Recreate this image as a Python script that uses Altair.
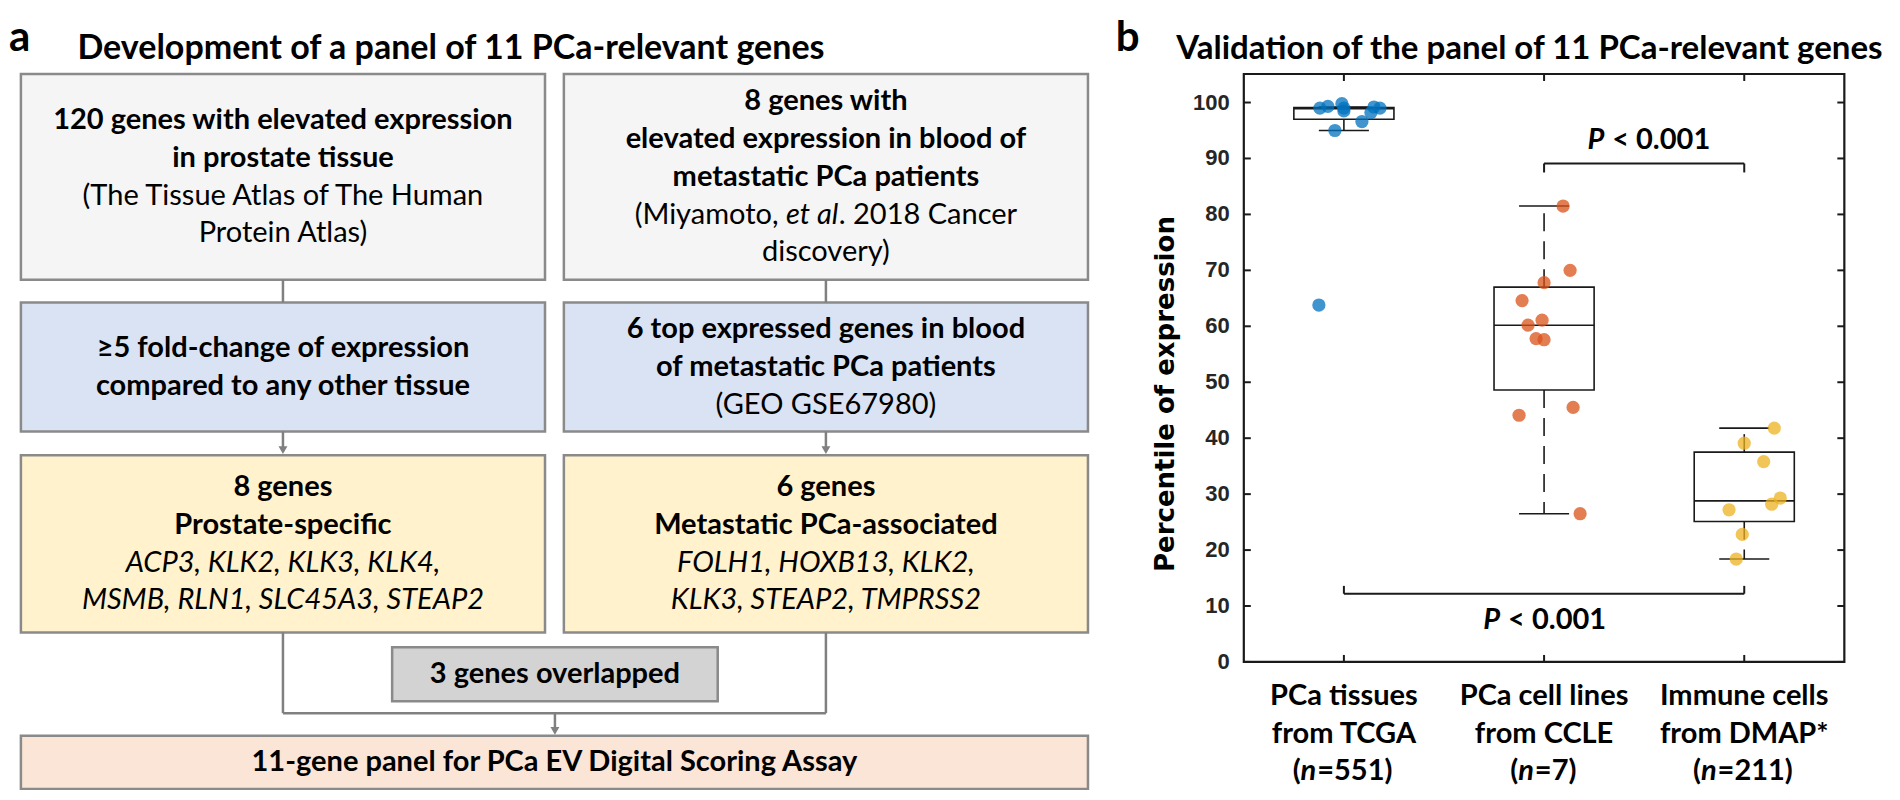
import altair as alt
import pandas as pd

# ------------------------------------------------------------------
# Panel b data
# ------------------------------------------------------------------
CATS = [1, 2, 3]
CAT_L1 = ["PCa tissues", "PCa cell lines", "Immune cells"]
CAT_L2 = ["from TCGA", "from CCLE", "from DMAP*"]
CAT_N = ["551", "7", "211"]
CAT_COLOR = ["#0072BD", "#D95319", "#EDB120"]

BOX_Q1 = [97.0, 48.6, 25.1]
BOX_MED = [98.9, 60.2, 28.8]
BOX_Q3 = [99.1, 67.0, 37.5]
BOX_LO = [95.0, 26.5, 18.4]
BOX_HI = [99.2, 81.5, 41.8]

PT_GROUP = [1] * 11 + [2] * 11 + [3] * 8
PT_X = [0.88, 0.92, 0.99, 1.00, 1.00, 1.15, 1.18, 1.135, 1.09, 0.955, 0.875,
        2.095, 2.13, 2.00, 1.89, 1.99, 1.92, 1.96, 2.00, 1.875, 2.145, 2.18,
        3.15, 3.00, 3.097, 3.18, 3.137, 2.924, 2.99, 2.96]
PT_Y = [99.0, 99.3, 99.8, 98.5, 99.0, 99.2, 99.0, 98.2, 96.6, 95.0, 63.8,
        81.5, 70.0, 67.8, 64.6, 61.1, 60.2, 57.8, 57.6, 44.1, 45.5, 26.5,
        41.8, 39.1, 35.8, 29.3, 28.2, 27.2, 22.8, 18.4]

Y_TICKS = list(range(0, 101, 10))
Y_MAX = 105.1

BR_X1 = [2, 1]
BR_X2 = [3, 3]
BR_Y = [89.1, 12.2]
BR_LEG = [87.5, 13.6]
P_X = [2.53, 2.01]
P_Y = [93.3, 7.5]

# ------------------------------------------------------------------
# Panel a content (flowchart)
# ------------------------------------------------------------------
BOX_FILL = ["#f5f5f5", "#f5f5f5", "#dae3f3", "#dae3f3", "#fff2cc", "#fff2cc", "#d3d3d3", "#fbe5d6"]
BOX_TEXT = [
    [[("120 genes with elevated expression", "b")], [("in prostate tissue", "b")],
     [("(The Tissue Atlas of The Human", "r")], [("Protein Atlas)", "r")]],
    [[("8 genes with", "b")], [("elevated expression in blood of", "b")], [("metastatic PCa patients", "b")],
     [("(Miyamoto, ", "r"), ("et al", "i"), (". 2018 Cancer", "r")], [("discovery)", "r")]],
    [[("\u22655 fold-change of expression", "b")], [("compared to any other tissue", "b")]],
    [[("6 top expressed genes in blood", "b")], [("of metastatic PCa patients", "b")], [("(GEO GSE67980)", "r")]],
    [[("8 genes", "b")], [("Prostate-specific", "b")], [("ACP3, KLK2, KLK3, KLK4,", "i")],
     [("MSMB, RLN1, SLC45A3, STEAP2", "i")]],
    [[("6 genes", "b")], [("Metastatic PCa-associated", "b")], [("FOLH1, HOXB13, KLK2,", "i")],
     [("KLK3, STEAP2, TMPRSS2", "i")]],
    [[("3 genes overlapped", "b")]],
    [[("11-gene panel for PCa EV Digital Scoring Assay", "b")]],
]
TITLE_A = "Development of a panel of 11 PCa-relevant genes"
TITLE_B = "Validation of the panel of 11 PCa-relevant genes"
Y_TITLE = "Percentile of expression"

# ------------------------------------------------------------------
# Layout (reference pixel space of the 1900x800 figure)
# ------------------------------------------------------------------
BOX_X0 = [13, 560, 13, 560, 13, 560, 387, 13]
BOX_X1 = [541, 1088, 541, 1088, 541, 1088, 715, 1088]
BOX_Y0 = [70, 70, 302, 302, 457, 457, 652, 742]
BOX_Y1 = [279, 279, 433, 433, 637, 637, 707, 796]
LINE_H = 38.3
CONN = [(277, 279, 277, 302), (824, 279, 824, 302), (277, 433, 277, 450), (824, 433, 824, 450),
        (277, 637, 277, 719), (824, 637, 824, 719), (277, 719, 824, 719), (551, 719, 551, 735)]
ARROWS = [(277, 452), (824, 452), (551, 737)]

W, H = 1882, 782
RX1 = 1896.0
RY0, RY1 = 3.0, 797.0
KX = W / RX1
KY = H / (RY1 - RY0)


def px(r):
    return r * KX


def py(r):
    return (r - RY0) * KY


FR_L, FR_R, FR_T, FR_B = 1245, 1850, 70, 667

sx_a = alt.Scale(domain=[0, RX1], range=[0, W], nice=False, zero=False)
sy_a = alt.Scale(domain=[RY0, RY1], range=[0, H], nice=False, zero=False)
sx_b = alt.Scale(domain=[0.5, 3.5], range=[px(FR_L), px(FR_R)], nice=False, zero=False)
sy_b = alt.Scale(domain=[0, Y_MAX], range=[py(FR_B), py(FR_T)], nice=False, zero=False)
PXU_X = (px(FR_R) - px(FR_L)) / 3.0
PXU_Y = (py(FR_B) - py(FR_T)) / Y_MAX

FONT = "Lato"
FS = 29
FS_TITLE_A = 34
FS_TITLE_B = 33
FS_XLAB = 29
FS_P = 29
STYLE = {"b": ("bold", "normal"), "r": ("normal", "normal"), "i": ("normal", "italic"), "bi": ("bold", "italic")}

CW = {" ": 0.26, "(": 0.3, ")": 0.3, ".": 0.22, ",": 0.22, "=": 0.58, "<": 0.58,
      "a": 0.49, "b": 0.55, "c": 0.45, "d": 0.55, "e": 0.51, "f": 0.32, "g": 0.5, "h": 0.55, "i": 0.23,
      "j": 0.23, "k": 0.48, "l": 0.23, "m": 0.83, "n": 0.55, "o": 0.55, "p": 0.55, "q": 0.55, "r": 0.35,
      "s": 0.41, "t": 0.34, "u": 0.55, "v": 0.49, "w": 0.76, "x": 0.47, "y": 0.49, "z": 0.44,
      "M": 0.86, "I": 0.28, "P": 0.6}


def text_w(s, size, bold=False):
    w = 0.0
    for ch in s:
        if ch in CW:
            w += CW[ch]
        elif ch.isdigit():
            w += 0.58
        elif ch.isupper():
            w += 0.65
        else:
            w += 0.5
    return w * size * (1.04 if bold else 1.0)


def place_line(rows, segs, cx, cy, size):
    if len(segs) == 1:
        rows.append(dict(x=cx, y=cy, text=segs[0][0], style=segs[0][1], align="center"))
        return
    ws = [text_w(t, size, "b" in st) for t, st in segs]
    start = cx - sum(ws) / 2.0
    b = start + ws[0]
    t0, st0 = segs[0]
    trail = t0[len(t0.rstrip()):]
    rows.append(dict(x=b - text_w(trail, size), y=cy, text=t0.strip(), style=st0, align="right"))
    for k in range(1, len(segs)):
        t, st = segs[k]
        lead = t[:len(t) - len(t.lstrip())]
        rows.append(dict(x=b + text_w(lead, size), y=cy, text=t.strip(), style=st, align="left"))
        b += ws[k]


def text_layers(df, xs, ys, size, font=FONT, color="black"):
    out = []
    for (st, al), sub in df.groupby(["style", "align"]):
        wgt, fst = STYLE[st]
        out.append(
            alt.Chart(sub.reset_index(drop=True)).mark_text(
                align=al, baseline="middle", font=font, fontSize=size, fontWeight=wgt,
                fontStyle=fst, color=color
            ).encode(
                x=alt.X("x:Q", scale=xs, axis=None),
                y=alt.Y("y:Q", scale=ys, axis=None),
                text="text:N",
            )
        )
    return out


# ------------------------------------------------------------------
# Panel a layers
# ------------------------------------------------------------------
boxes = pd.DataFrame(dict(x0=BOX_X0, x1=BOX_X1, y0=BOX_Y0, y1=BOX_Y1, fill=BOX_FILL))
box_layer = alt.Chart(boxes).mark_rect(stroke="#8a8a8a", strokeWidth=2.5).encode(
    x=alt.X("x0:Q", scale=sx_a, axis=None), x2="x1:Q",
    y=alt.Y("y0:Q", scale=sy_a, axis=None), y2="y1:Q",
    color=alt.Color("fill:N", scale=None, legend=None),
)

conn = pd.DataFrame(CONN, columns=["x", "y", "x2", "y2"])
conn_layer = alt.Chart(conn).mark_rule(color="#808080", strokeWidth=2.5).encode(
    x=alt.X("x:Q", scale=sx_a, axis=None), x2="x2:Q",
    y=alt.Y("y:Q", scale=sy_a, axis=None), y2="y2:Q",
)
arr = pd.DataFrame(ARROWS, columns=["x", "y"])
arr_layer = alt.Chart(arr).mark_point(shape="triangle-down", filled=True, color="#808080",
                                      size=80, opacity=1).encode(
    x=alt.X("x:Q", scale=sx_a, axis=None), y=alt.Y("y:Q", scale=sy_a, axis=None)
)

rows = []
for bi, lines in enumerate(BOX_TEXT):
    cxr = (BOX_X0[bi] + BOX_X1[bi]) / 2.0
    cyr = (BOX_Y0[bi] + BOX_Y1[bi]) / 2.0
    n = len(lines)
    for li, segs in enumerate(lines):
        place_line(rows, segs, cxr, cyr + (li - (n - 1) / 2.0) * LINE_H, FS)
box_text = text_layers(pd.DataFrame(rows), sx_a, sy_a, FS)

heads = pd.DataFrame(dict(x=[1, 1116], y=[47, 47], text=["a", "b"]))
head_layer = alt.Chart(heads).mark_text(align="left", baseline="alphabetic", font=FONT, fontSize=42,
                                        fontWeight="bold", color="black").encode(
    x=alt.X("x:Q", scale=sx_a, axis=None), y=alt.Y("y:Q", scale=sy_a, axis=None), text="text:N")

title_a = alt.Chart(pd.DataFrame(dict(x=[70], y=[55], text=[TITLE_A]))).mark_text(
    align="left", baseline="alphabetic", font=FONT, fontSize=FS_TITLE_A, fontWeight="bold",
    color="black").encode(
    x=alt.X("x:Q", scale=sx_a, axis=None), y=alt.Y("y:Q", scale=sy_a, axis=None), text="text:N")
title_b = alt.Chart(pd.DataFrame(dict(x=[1177], y=[55], text=[TITLE_B]))).mark_text(
    align="left", baseline="alphabetic", font=FONT, fontSize=FS_TITLE_B, fontWeight="bold",
    color="black").encode(
    x=alt.X("x:Q", scale=sx_a, axis=None), y=alt.Y("y:Q", scale=sy_a, axis=None), text="text:N")

ytitle = pd.DataFrame(dict(x=[1167], y=[395], text=[Y_TITLE]))
ytitle_layer = alt.Chart(ytitle).mark_text(align="center", baseline="middle", angle=270,
                                           font="DejaVu Sans", fontSize=26, fontWeight="bold",
                                           color="black").encode(
    x=alt.X("x:Q", scale=sx_a, axis=None), y=alt.Y("y:Q", scale=sy_a, axis=None), text="text:N")

panel_a = alt.layer(box_layer, conn_layer, arr_layer, *box_text, head_layer, title_a, title_b,
                    ytitle_layer)

# ------------------------------------------------------------------
# Panel b layers
# ------------------------------------------------------------------
XB = lambda f: alt.X(f, scale=sx_b, axis=None)
YB = lambda f: alt.Y(f, scale=sy_b, axis=None)
INK = "#1a1a1a"

frame = pd.DataFrame(dict(x0=[0.5], x1=[3.5], y0=[0.0], y1=[Y_MAX]))
frame_layer = alt.Chart(frame).mark_rect(fillOpacity=0, stroke=INK, strokeWidth=2.2).encode(
    x=XB("x0:Q"), x2="x1:Q", y=YB("y0:Q"), y2="y1:Q")

TLX = 7.0 / PXU_X
TLY = 7.0 / PXU_Y
yt = pd.DataFrame(dict(v=Y_TICKS))
ytick_l = alt.Chart(yt).transform_calculate(a="0.5", b=f"0.5 + {TLX}").mark_rule(
    color=INK, strokeWidth=2).encode(x=XB("a:Q"), x2="b:Q", y=YB("v:Q"))
ytick_r = alt.Chart(yt).transform_calculate(a=f"3.5 - {TLX}", b="3.5").mark_rule(
    color=INK, strokeWidth=2).encode(x=XB("a:Q"), x2="b:Q", y=YB("v:Q"))
ytick_lab = alt.Chart(yt).transform_calculate(a="0.5").mark_text(
    align="right", baseline="middle", dx=-14, font="Liberation Sans", fontSize=22,
    fontWeight="bold", color="#262626").encode(x=XB("a:Q"), y=YB("v:Q"), text="v:Q")
xt = pd.DataFrame(dict(c=CATS))
xtick_b = alt.Chart(xt).transform_calculate(a="0", b=f"{TLY}").mark_rule(
    color=INK, strokeWidth=2).encode(x=XB("c:Q"), y=YB("a:Q"), y2="b:Q")
xtick_t = alt.Chart(xt).transform_calculate(a=f"{Y_MAX} - {TLY}", b=f"{Y_MAX}").mark_rule(
    color=INK, strokeWidth=2).encode(x=XB("c:Q"), y=YB("a:Q"), y2="b:Q")

stats = pd.DataFrame(dict(c=CATS, q1=BOX_Q1, med=BOX_MED, q3=BOX_Q3, lo=BOX_LO, hi=BOX_HI))
stats_c = alt.Chart(stats).transform_calculate(
    l="datum.c - 0.25", r="datum.c + 0.25", cl="datum.c - 0.125", cr="datum.c + 0.125")
box_b = stats_c.mark_rect(fillOpacity=0, stroke=INK, strokeWidth=1.6).encode(
    x=XB("l:Q"), x2="r:Q", y=YB("q1:Q"), y2="q3:Q")
med_b = stats_c.mark_rule(color=INK, strokeWidth=1.6).encode(
    x=XB("l:Q"), x2="r:Q", y=YB("med:Q"))
wh_up = stats_c.mark_rule(color=INK, strokeWidth=1.6, strokeDash=[18, 10]).encode(
    x=XB("c:Q"), y=YB("q3:Q"), y2="hi:Q")
wh_lo = stats_c.mark_rule(color=INK, strokeWidth=1.6, strokeDash=[18, 10]).encode(
    x=XB("c:Q"), y=YB("q1:Q"), y2="lo:Q")
cap_up = stats_c.mark_rule(color=INK, strokeWidth=1.6).encode(
    x=XB("cl:Q"), x2="cr:Q", y=YB("hi:Q"))
cap_lo = stats_c.mark_rule(color=INK, strokeWidth=1.6).encode(
    x=XB("cl:Q"), x2="cr:Q", y=YB("lo:Q"))

pts = pd.DataFrame(dict(g=[str(g) for g in PT_GROUP], x=PT_X, y=PT_Y))
pts_layer = alt.Chart(pts).mark_circle(size=175, opacity=0.75).encode(
    x=XB("x:Q"), y=YB("y:Q"),
    color=alt.Color("g:N", scale=alt.Scale(domain=["1", "2", "3"], range=CAT_COLOR), legend=None),
)

br = pd.DataFrame(dict(x1=BR_X1, x2=BR_X2, y=BR_Y, leg=BR_LEG))
br_h = alt.Chart(br).mark_rule(color=INK, strokeWidth=2).encode(x=XB("x1:Q"), x2="x2:Q", y=YB("y:Q"))
br_l = alt.Chart(br).mark_rule(color=INK, strokeWidth=2).encode(x=XB("x1:Q"), y=YB("y:Q"), y2="leg:Q")
br_r = alt.Chart(br).mark_rule(color=INK, strokeWidth=2).encode(x=XB("x2:Q"), y=YB("y:Q"), y2="leg:Q")

P_REST = "< 0.001"
wP = text_w("P", FS_P, True)
wS = text_w(" ", FS_P, True)
wR = text_w(P_REST, FS_P, True)
p_dx = -(wP + wS + wR) / 2.0 + wP
pdf = pd.DataFrame(dict(x=P_X, y=P_Y, p=["P"] * 2, rest=[P_REST] * 2))
p_layer1 = alt.Chart(pdf).mark_text(align="right", baseline="middle", dx=p_dx, font=FONT, fontSize=FS_P,
                                    fontWeight="bold", fontStyle="italic", color="black").encode(
    x=XB("x:Q"), y=YB("y:Q"), text="p:N")
p_layer2 = alt.Chart(pdf).mark_text(align="left", baseline="middle", dx=p_dx + wS, font=FONT,
                                    fontSize=FS_P, fontWeight="bold", color="black").encode(
    x=XB("x:Q"), y=YB("y:Q"), text="rest:N")

lab = pd.DataFrame(dict(c=CATS, l1=CAT_L1, l2=CAT_L2))
lab1 = alt.Chart(lab).mark_text(align="center", baseline="middle", font=FONT, fontSize=FS_XLAB,
                                fontWeight="bold", color="black").encode(
    x=XB("c:Q"), y=alt.value(py(702)), text="l1:N")
lab2 = alt.Chart(lab).mark_text(align="center", baseline="middle", font=FONT, fontSize=FS_XLAB,
                                fontWeight="bold", color="black").encode(
    x=XB("c:Q"), y=alt.value(py(740)), text="l2:N")

l3rows = []
for c, nn in zip(CATS, CAT_N):
    segs = [("(", "b"), ("n", "bi"), ("=" + nn + ")", "b")]
    ws = [text_w(t, FS_XLAB, True) for t, _ in segs]
    b0 = -sum(ws) / 2.0 + ws[0]
    l3rows.append(dict(x=c + b0 / PXU_X, text=segs[0][0], style="b", align="right"))
    l3rows.append(dict(x=c + b0 / PXU_X, text=segs[1][0], style="bi", align="left"))
    l3rows.append(dict(x=c + (b0 + ws[1]) / PXU_X, text=segs[2][0], style="b", align="left"))
l3 = pd.DataFrame(l3rows)
lab3 = []
for (st, al), sub in l3.groupby(["style", "align"]):
    wgt, fst = STYLE[st]
    lab3.append(alt.Chart(sub.reset_index(drop=True)).mark_text(
        align=al, baseline="middle", font=FONT, fontSize=FS_XLAB, fontWeight=wgt, fontStyle=fst,
        color="black"
    ).encode(x=XB("x:Q"), y=alt.value(py(778)), text="text:N"))

panel_b = alt.layer(frame_layer, ytick_l, ytick_r, xtick_b, xtick_t, ytick_lab, box_b, wh_up, wh_lo,
                    cap_up, cap_lo, med_b, pts_layer, br_h, br_l, br_r, p_layer1, p_layer2, lab1, lab2,
                    *lab3)

chart = alt.layer(panel_a, panel_b).resolve_scale(
    x="independent", y="independent", color="independent"
).properties(
    width=W, height=H, padding=0, autosize=alt.AutoSizeParams(type="none")
).configure_view(strokeWidth=0)

chart.save("out.html", embed_options={"renderer": "svg", "actions": False})
